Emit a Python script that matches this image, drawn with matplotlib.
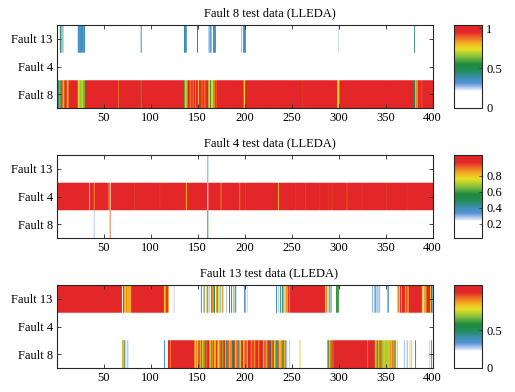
import numpy as np
import matplotlib
matplotlib.use("Agg")
import matplotlib.pyplot as plt
from matplotlib.colors import LinearSegmentedColormap

plt.rcParams['font.family'] = ['Liberation Serif', 'DejaVu Serif']
plt.rcParams['font.size'] = 9

N_SAMPLES = 400
categories = ['Fault 13', 'Fault 4', 'Fault 8']
titles = ['Fault 8 test data (LLEDA)', 'Fault 4 test data (LLEDA)', 'Fault 13 test data (LLEDA)']
x_ticks = [50, 100, 150, 200, 250, 300, 350, 400]

# ---- data: each row = base value + runs (start, end, value), samples 1..400 ----
# Panel 1: Fault 8 test data
p1_f13_base = 0.03
p1_f13_runs = [(4, 4, 0.55), (5, 7, 0.27), (23, 25, 0.33), (26, 28, 0.36), (29, 29, 0.30),
               (30, 30, 0.40), (90, 90, 0.40), (136, 137, 0.38), (138, 138, 0.36),
               (150, 150, 0.45), (162, 163, 0.27), (164, 164, 0.34), (165, 165, 0.26),
               (167, 169, 0.35), (197, 197, 0.27), (199, 201, 0.34), (300, 300, 0.24),
               (381, 381, 0.42)]
p1_f4_base = 0.0
p1_f4_runs = []
p1_f8_base = 1.0
p1_f8_runs = [(1, 1, 0.70), (2, 2, 0.42), (3, 3, 0.85), (4, 4, 0.60), (5, 6, 0.92), (7, 7, 0.72),
              (8, 8, 0.85), (11, 11, 0.88), (12, 12, 0.75), (13, 13, 0.90), (23, 24, 0.72),
              (25, 26, 0.66), (27, 28, 0.70), (29, 30, 0.62), (66, 66, 0.88), (90, 90, 0.60),
              (136, 136, 0.60), (137, 138, 0.70), (139, 139, 0.85), (142, 143, 0.88),
              (145, 146, 0.90), (148, 148, 0.85), (150, 150, 0.45), (151, 151, 0.80),
              (154, 155, 0.90), (157, 158, 0.88), (162, 162, 0.70), (163, 163, 0.78),
              (164, 164, 0.50), (165, 166, 0.75), (167, 167, 0.62), (168, 168, 0.85),
              (169, 169, 0.55), (170, 170, 0.90), (199, 199, 0.60), (200, 200, 0.75),
              (201, 201, 0.55), (262, 262, 0.93), (299, 299, 0.80), (300, 300, 0.75),
              (301, 301, 0.88), (380, 380, 0.55), (381, 381, 0.50), (382, 382, 0.70),
              (383, 384, 0.85), (386, 386, 0.93), (388, 389, 0.92)]

# Panel 2: Fault 4 test data
p2_f13_base = 0.03
p2_f13_runs = [(161, 161, 0.32)]
p2_f4_base = 1.0
p2_f4_runs = [(35, 35, 0.75), (40, 40, 0.85), (55, 55, 0.90), (57, 57, 0.10), (83, 83, 0.95),
              (110, 110, 0.95), (138, 138, 0.78), (161, 161, 0.10), (175, 175, 0.87),
              (195, 195, 0.87), (201, 201, 0.94), (236, 236, 0.80), (254, 254, 0.95),
              (265, 265, 0.94), (280, 280, 0.95), (289, 289, 0.95), (293, 293, 0.94),
              (309, 309, 0.92), (325, 325, 0.95), (351, 351, 0.95), (373, 373, 0.95)]
p2_f8_base = 0.03
p2_f8_runs = [(40, 40, 0.28), (57, 57, 0.90), (161, 161, 0.55)]

# Panel 3: Fault 13 test data
p3_f13_base = 0.03
p3_f13_runs = [(1, 69, 1.0), (70, 70, 0.15), (71, 71, 0.55), (72, 72, 0.88), (73, 73, 0.78),
               (74, 74, 0.90), (75, 79, 0.86), (80, 113, 1.0), (114, 114, 0.60),
               (115, 115, 0.82), (116, 116, 0.70), (117, 118, 0.98), (119, 119, 0.88),
               (125, 125, 0.27), (154, 154, 0.40), (157, 157, 0.55), (160, 160, 0.85),
               (161, 161, 0.35), (163, 163, 0.75), (165, 165, 0.42), (166, 167, 0.90),
               (168, 168, 0.55), (170, 170, 0.85), (171, 171, 0.95), (172, 172, 0.75),
               (174, 174, 0.33), (176, 176, 0.78), (177, 177, 0.90), (181, 181, 0.28),
               (184, 184, 0.55), (186, 186, 0.42), (188, 188, 0.88), (190, 190, 0.50),
               (191, 191, 0.27), (200, 200, 0.33), (201, 201, 0.30), (203, 203, 0.26),
               (234, 234, 0.40), (236, 236, 0.27), (238, 238, 0.50), (240, 240, 0.33),
               (241, 241, 0.55), (243, 243, 0.85), (244, 244, 0.78), (245, 245, 0.92),
               (246, 246, 0.88), (247, 285, 1.0), (248, 248, 0.90), (286, 286, 0.78),
               (287, 287, 0.90), (288, 288, 0.75), (290, 290, 0.55), (292, 292, 0.50),
               (298, 298, 0.58), (299, 300, 0.62), (336, 336, 0.30), (338, 338, 0.27),
               (339, 339, 0.42), (341, 341, 0.33), (343, 343, 0.30), (344, 344, 0.27),
               (352, 352, 0.28), (353, 353, 0.34), (363, 363, 0.85), (364, 364, 0.90),
               (365, 365, 0.78), (366, 370, 1.0), (367, 367, 0.88), (371, 371, 0.85),
               (372, 373, 0.95), (374, 374, 0.80), (375, 388, 1.0), (389, 389, 0.88),
               (391, 391, 0.75), (392, 392, 0.90), (393, 393, 0.82), (394, 397, 1.0),
               (398, 398, 0.80), (399, 399, 0.55), (400, 400, 0.30)]
p3_f4_base = 0.0
p3_f4_runs = []
p3_f8_base = 0.03
p3_f8_runs = [(70, 70, 0.85), (71, 71, 0.75), (72, 72, 0.38), (73, 73, 0.80), (75, 76, 0.27),
              (115, 115, 0.40), (119, 146, 1.0), (121, 121, 0.90), (147, 147, 0.88),
              (148, 148, 0.75), (149, 149, 0.90), (150, 150, 0.80), (151, 152, 0.95),
              (153, 153, 0.85), (154, 154, 0.60), (155, 155, 0.75), (156, 157, 0.90),
              (158, 158, 0.55), (159, 160, 0.95), (161, 162, 1.0), (163, 163, 0.88),
              (164, 164, 0.72), (165, 165, 0.35), (166, 166, 0.90), (167, 167, 0.45),
              (168, 169, 0.85), (170, 170, 1.0), (171, 171, 0.92), (172, 172, 0.78),
              (173, 173, 0.72), (174, 175, 0.95), (176, 176, 0.50), (177, 177, 0.88),
              (178, 179, 1.0), (180, 180, 0.80), (181, 181, 0.55), (182, 183, 0.95),
              (184, 184, 0.75), (185, 186, 0.90), (187, 187, 0.48), (188, 189, 1.0),
              (190, 190, 0.72), (191, 191, 0.85), (192, 193, 0.95), (194, 194, 0.40),
              (195, 195, 0.88), (196, 196, 0.75), (197, 198, 1.0), (199, 199, 0.78),
              (200, 200, 0.90), (201, 202, 0.95), (203, 203, 0.75), (204, 206, 1.0),
              (207, 207, 0.88), (208, 210, 0.97), (211, 211, 0.85), (212, 214, 1.0),
              (215, 215, 0.90), (216, 216, 0.60), (217, 219, 1.0), (220, 220, 0.82),
              (221, 222, 0.95), (223, 223, 0.70), (224, 224, 0.90), (225, 227, 1.0),
              (228, 228, 0.50), (229, 229, 0.88), (230, 231, 0.97), (232, 232, 0.78),
              (233, 233, 0.90), (234, 234, 0.45), (235, 236, 0.95), (237, 237, 0.80),
              (238, 238, 0.85), (239, 239, 0.70), (240, 240, 0.92), (241, 241, 0.55),
              (242, 242, 0.90), (243, 243, 0.75), (244, 244, 0.35), (245, 245, 0.27),
              (248, 248, 0.27), (259, 259, 0.75), (288, 288, 0.28), (289, 289, 0.55),
              (290, 290, 0.80), (291, 291, 0.88), (292, 294, 0.95), (295, 295, 0.60),
              (296, 338, 1.0), (331, 331, 0.92), (339, 339, 0.88), (340, 340, 0.75),
              (341, 341, 0.50), (342, 342, 0.90), (343, 343, 0.80), (344, 344, 0.60),
              (345, 346, 0.92), (347, 347, 0.72), (348, 348, 0.85), (349, 349, 0.74),
              (350, 351, 0.72), (352, 352, 0.85), (353, 354, 0.74), (355, 355, 0.90),
              (356, 356, 0.78), (357, 358, 0.92), (359, 359, 0.82), (360, 360, 0.50),
              (361, 361, 0.88), (363, 363, 0.27), (370, 370, 0.28), (373, 373, 0.30),
              (376, 376, 0.78), (378, 378, 0.28), (382, 382, 0.42), (397, 397, 0.27),
              (399, 399, 0.34)]

clims = [(0.0, 1.04), (0.02, 1.06), (0.0, 1.10)]
cbar_ticks = [[0, 0.5, 1], [0.2, 0.4, 0.6, 0.8], [0, 0.5]]
cbar_ticklabels = [['0', '0.5', '1'], ['0.2', '0.4', '0.6', '0.8'], ['0', '0.5']]


def build(base, runs):
    a = np.full(N_SAMPLES, float(base))
    for s, e, v in runs:
        a[s - 1:e] = v
    return a


panels = [
    np.vstack([build(p1_f13_base, p1_f13_runs), build(p1_f4_base, p1_f4_runs), build(p1_f8_base, p1_f8_runs)]),
    np.vstack([build(p2_f13_base, p2_f13_runs), build(p2_f4_base, p2_f4_runs), build(p2_f8_base, p2_f8_runs)]),
    np.vstack([build(p3_f13_base, p3_f13_runs), build(p3_f4_base, p3_f4_runs), build(p3_f8_base, p3_f8_runs)]),
]

cmap = LinearSegmentedColormap.from_list('wbgyr', [
    (0.00, '#ffffff'), (0.20, '#ffffff'), (0.245, '#b4cdee'), (0.30, '#5592d4'),
    (0.36, '#3d8fb8'), (0.45, '#238c58'), (0.53, '#1f8a3e'), (0.62, '#86c13e'),
    (0.71, '#e6df22'), (0.79, '#f3a820'), (0.86, '#ec5e27'), (0.91, '#e32628'),
    (1.00, '#e32628')])

W, H = 515, 392
fig = plt.figure(figsize=(W / 100, H / 100), dpi=100)

ax_left = 57 / W
ax_w = (433 - 57) / W
tops = [25, 155, 285]
ax_hpx = 83
cb_left = 454 / W
cb_w = 28 / W
spine_col = '#262626'
REP = 28  # vertical repetition for smooth rendering of rows

for k in range(3):
    top = tops[k]
    bottom = (H - top - ax_hpx) / H
    ax = fig.add_axes([ax_left, bottom, ax_w, ax_hpx / H])
    img = np.repeat(panels[k], REP, axis=0)
    im = ax.imshow(img, cmap=cmap, vmin=clims[k][0], vmax=clims[k][1], aspect='auto',
                   extent=(0.5, N_SAMPLES + 0.5, 3.5, 0.5), interpolation='hanning',
                   interpolation_stage='rgba')
    ax.set_xlim(0.5, N_SAMPLES + 0.5)
    ax.set_ylim(3.5, 0.5)
    ax.set_xticks(x_ticks)
    ax.set_xticklabels([str(t) for t in x_ticks])
    ax.set_yticks([1, 2, 3])
    ax.set_yticklabels(categories)
    ax.tick_params(direction='in', top=True, right=True, length=3, width=0.6,
                   colors=spine_col, labelcolor='black', labelsize=9, pad=3)
    for sp in ax.spines.values():
        sp.set_color(spine_col)
        sp.set_linewidth(0.8)
    ax.set_title(titles[k], fontsize=9, pad=6, x=0.565)

    cax = fig.add_axes([cb_left, bottom, cb_w, ax_hpx / H])
    cb = fig.colorbar(im, cax=cax, ticks=cbar_ticks[k])
    cb.set_ticklabels(cbar_ticklabels[k])
    cax.tick_params(direction='in', length=2, width=0.5, labelsize=9, pad=3,
                    colors=spine_col, labelcolor='black')
    cb.outline.set_edgecolor(spine_col)
    cb.outline.set_linewidth(0.8)

fig.savefig('out.png', dpi=100)
